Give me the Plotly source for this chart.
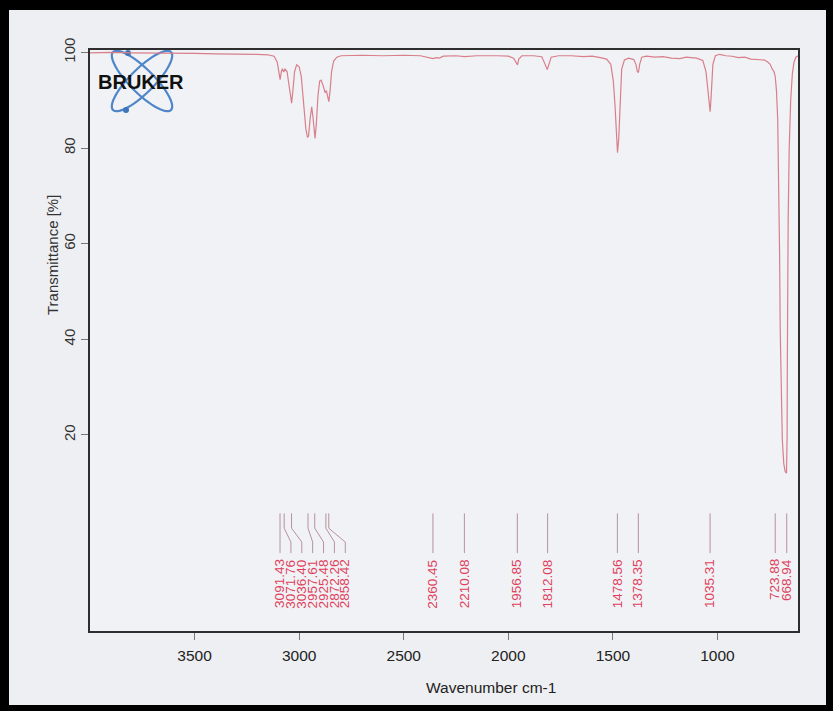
import numpy as np
import plotly.graph_objects as go

# ---------------- data ----------------
wavenumber = [4000, 3900, 3800, 3700, 3600, 3500, 3400, 3300, 3200, 3150, 3120, 3105, 3097, 3091,
              3085, 3080, 3074, 3068, 3058, 3048, 3040, 3036, 3031, 3022, 3012, 3000, 2990, 2978,
              2968, 2960, 2955, 2948, 2940, 2934, 2928, 2924, 2918, 2910, 2902, 2895, 2885, 2876,
              2870, 2865, 2858, 2852, 2845, 2835, 2820, 2800, 2700, 2600, 2500, 2420, 2380, 2360,
              2345, 2330, 2310, 2250, 2210, 2150, 2050, 2000, 1975, 1962, 1956, 1950, 1935, 1880,
              1840, 1825, 1814, 1808, 1795, 1760, 1700, 1640, 1600, 1560, 1530, 1510, 1498, 1490,
              1484, 1478, 1472, 1466, 1458, 1445, 1425, 1400, 1390, 1383, 1378, 1372, 1362, 1340,
              1300, 1260, 1220, 1180, 1150, 1100, 1070, 1055, 1045, 1038, 1035, 1030, 1022, 1010,
              990, 960, 930, 900, 870, 840, 810, 790, 775, 760, 748, 738, 730, 724, 718, 712, 707,
              703, 700, 696, 690, 683, 676, 670, 667, 666, 665, 662, 657, 650, 642, 634, 625, 615]
transmittance = [99.9, 100.0, 99.9, 99.9, 99.8, 99.8, 99.7, 99.7, 99.6, 99.5, 99.2, 98.0, 95.5, 94.3,
                 96.0, 96.6, 95.9, 96.5, 96.0, 93.0, 89.6, 89.4, 91.5, 96.0, 97.4, 97.0, 95.0, 89.0,
                 84.0, 82.2, 82.5, 86.0, 88.6, 86.5, 82.3, 82.0, 85.0, 91.0, 94.0, 94.2, 93.0, 91.6,
                 92.0, 91.0, 89.7, 92.0, 96.0, 98.2, 99.0, 99.3, 99.4, 99.3, 99.4, 99.3, 99.0, 98.7,
                 98.9, 98.8, 99.2, 99.3, 99.1, 99.3, 99.3, 99.2, 98.8, 97.6, 97.4, 98.6, 99.3, 99.3,
                 99.1, 97.6, 96.4, 97.2, 99.0, 99.3, 99.3, 99.1, 99.2, 98.9, 98.6, 97.5, 94.0, 89.0,
                 84.0, 79.0, 82.0, 90.0, 96.5, 98.4, 98.8, 98.5, 97.5, 96.0, 95.8, 97.5, 99.0, 99.2,
                 99.0, 99.1, 98.8, 98.7, 99.0, 98.8, 98.3, 96.0, 91.0, 87.8, 87.6, 91.0, 97.5, 99.3,
                 99.6, 99.3, 99.2, 98.9, 99.0, 98.6, 98.5, 98.3, 98.4, 98.0, 97.5, 96.5, 96.0, 95.0,
                 92.0, 86.0, 74.0, 58.0, 42.0, 28.0, 19.0, 14.0, 12.3, 12.0, 20.0, 35.0, 50.0, 65.0,
                 80.0, 90.0, 95.5, 98.0, 99.0, 99.3]
peak_wn = [3091.43, 3071.76, 3036.40, 2957.61, 2925.48, 2872.26, 2858.42,
           2360.45, 2210.08, 1956.85, 1812.08, 1478.56, 1378.35, 1035.31, 723.88, 668.94]
x_ticks = [3500, 3000, 2500, 2000, 1500, 1000]
y_ticks = [20, 40, 60, 80, 100]

# ---------------- layout constants ----------------
W, H = 833, 711
ML, MR, MT, MB = 90, 35, 50, 80
PW, PH = W - ML - MR, H - MT - MB
X_RANGE = [4000, 615]
Y_RANGE = [-21, 100.5]
FONT = "Liberation Sans, Arial, sans-serif"
LINE_RED = "#d87f8b"
LABEL_RED = "#df3f5c"
LABEL_LINE = "#b9909a"


def px2paper(x, y):
    return (x - ML) / PW, (H - MB - y) / PH


# peak label spreading (like OPUS: labels pushed apart to a minimum gap)
MIN_GAP = 52
label_x = []
for i, p in enumerate(peak_wn):
    label_x.append(p if i == 0 else min(p, label_x[-1] - MIN_GAP))

lx, ly = [], []
for p, q in zip(peak_wn, label_x):
    lx += [p, p, q, q, None]
    ly += [3.6, 0.5, -2.4, -4.7, None]

fig = go.Figure()
fig.add_trace(go.Scatter(x=wavenumber, y=transmittance, mode="lines",
                         line=dict(color=LINE_RED, width=1.2), hoverinfo="skip"))
fig.add_trace(go.Scatter(x=lx, y=ly, mode="lines",
                         line=dict(color=LABEL_LINE, width=1), hoverinfo="skip"))

annotations = []
for p, q in zip(peak_wn, label_x):
    annotations.append(dict(x=q, y=-5.6, xref="x", yref="y", text=f"{p:.2f}",
                            textangle=-90, showarrow=False, xanchor="center", yanchor="top",
                            font=dict(family=FONT, size=13.5, color=LABEL_RED)))

xt, yt = px2paper(53, 255)
annotations.append(dict(x=xt, y=yt, xref="paper", yref="paper", text="Transmittance [%]",
                        textangle=-90, showarrow=False, xanchor="center", yanchor="middle",
                        font=dict(family=FONT, size=15, color="#333333")))
xt, yt = px2paper(491, 687)
annotations.append(dict(x=xt, y=yt, xref="paper", yref="paper", text="Wavenumber cm-1",
                        showarrow=False, xanchor="center", yanchor="middle",
                        font=dict(family=FONT, size=15.5, color="#222222")))
xt, yt = px2paper(141, 82)
annotations.append(dict(x=xt, y=yt, xref="paper", yref="paper", text="<b>BRUKER</b>",
                        showarrow=False, xanchor="center", yanchor="middle",
                        font=dict(family=FONT, size=20, color="#111111")))

shapes = []
# Bruker atom logo: two crossed ellipses
t = np.linspace(0, 2 * np.pi, 60)
for ang in (np.deg2rad(45), np.deg2rad(-45)):
    cx, cy, a, b = 142, 81, 41, 12
    xs = cx + a * np.cos(t) * np.cos(ang) - b * np.sin(t) * np.sin(ang)
    ys = cy + a * np.cos(t) * np.sin(ang) + b * np.sin(t) * np.cos(ang)
    pts = [px2paper(x, y) for x, y in zip(xs, ys)]
    path = "M " + " L ".join(f"{u:.5f},{v:.5f}" for u, v in pts) + " Z"
    shapes.append(dict(type="path", path=path, xref="paper", yref="paper",
                       line=dict(color="#4f86c9", width=2.2), layer="below"))
for (dx, dy) in [(128, 53), (126, 110)]:
    x0, y0 = px2paper(dx - 3, dy - 3)
    x1, y1 = px2paper(dx + 3, dy + 3)
    shapes.append(dict(type="circle", xref="paper", yref="paper", x0=x0, y0=y0, x1=x1, y1=y1,
                       fillcolor="#3f75bb", line=dict(width=0), layer="below"))

# black photo frame around the picture
for (a0, b0, a1, b1) in [(0, 0, W, 10), (0, 0, 9, H), (W - 7, 0, W, H), (0, H - 6, W, H)]:
    x0, y0 = px2paper(a0, b0)
    x1, y1 = px2paper(a1, b1)
    shapes.append(dict(type="rect", xref="paper", yref="paper", x0=x0, y0=y0, x1=x1, y1=y1,
                       fillcolor="#000000", line=dict(width=0), layer="above"))

fig.update_layout(
    width=W, height=H,
    margin=dict(l=ML, r=MR, t=MT, b=MB),
    paper_bgcolor="#eeeff2", plot_bgcolor="#f1f2f5",
    showlegend=False,
    annotations=annotations, shapes=shapes,
    font=dict(family=FONT),
)
fig.update_xaxes(range=X_RANGE, tickvals=x_ticks, ticktext=[str(v) for v in x_ticks],
                 showgrid=False, zeroline=False, showline=True, mirror=True,
                 linecolor="#2e2e2e", linewidth=1.5, ticks="outside", ticklen=7,
                 tickcolor="#777777", ticklabelstandoff=3,
                 tickfont=dict(family=FONT, size=15.5, color="#222222"))
fig.update_yaxes(range=Y_RANGE, tickvals=y_ticks, ticktext=[str(v) for v in y_ticks],
                 showgrid=False, zeroline=False, showline=True, mirror=True,
                 linecolor="#2e2e2e", linewidth=1.5, ticks="outside", ticklen=7,
                 tickcolor="#777777", tickangle=-90,
                 tickfont=dict(family=FONT, size=15, color="#333333"))

fig.write_html("out.html")
